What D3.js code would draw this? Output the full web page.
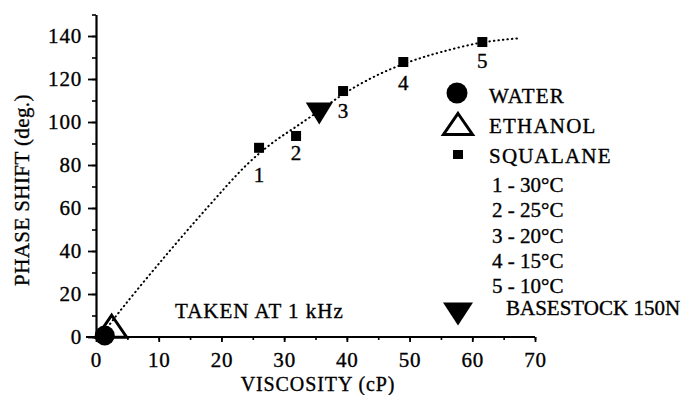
<!DOCTYPE html>
<html>
<head>
<meta charset="utf-8">
<script src="https://cdn.jsdelivr.net/npm/d3@7"></script>
<style>
  body { margin: 0; background: #fff; }
  text { font-family: "Liberation Serif", "Times New Roman", serif; fill: #000; stroke: #000; stroke-width: 0.35px; }
</style>
</head>
<body>
<div id="svg_div"></div>
<script>
// Squalane points, numbered 1..5
var squalaneX = [26, 31.9, 39.4, 49, 61.6];
var squalaneY = [88, 93.5, 114.4, 127.9, 137.2];
var squalaneLabels = ["1", "2", "3", "4", "5"];

// Other fluids
var water = {x: 1.4, y: 0.7};
var ethanol = {x: 2.5, y: 5};
var basestock = {x: 35.6, y: 104};

// Dotted trend curve
var curveX = [1, 3, 10, 18, 24, 28, 32, 36, 40, 45, 50, 55, 61.6, 67.6];
var curveY = [1, 9, 34, 61, 80, 90, 98, 106, 114, 122, 128, 132.5, 137, 139];

// Axes
var xTicks = [0, 10, 20, 30, 40, 50, 60, 70];
var yTicks = [0, 20, 40, 60, 80, 100, 120, 140];

// Legend
var legendNames = ["WATER", "ETHANOL", "SQUALANE"];
var tempLabels = ["1 - 30°C", "2 - 25°C", "3 - 20°C", "4 - 15°C", "5 - 10°C"];
var basestockName = "BASESTOCK 150N";
var note = "TAKEN AT 1 kHz";

var svg = d3.select("#svg_div").append("svg").attr("width", 683).attr("height", 395);

var x = d3.scaleLinear().domain([0, 70]).range([96, 535]);
var y = d3.scaleLinear().domain([0, 150]).range([337, 14.5]);

// Marker shapes (centered on 0,0)
function upTri(w, h) { return "M0," + (-h / 2) + "L" + (w / 2) + "," + (h / 2) + "L" + (-w / 2) + "," + (h / 2) + "Z"; }
function downTri(w, h) { return "M" + (-w / 2) + "," + (-h / 2) + "L" + (w / 2) + "," + (-h / 2) + "L0," + (h / 2) + "Z"; }

// Y axis: minor ticks every 10, labelled every 20
var yAxisG = svg.append("g").attr("transform", "translate(" + x(0) + ",0)");
yAxisG.call(d3.axisLeft(y).tickValues(d3.range(0, 151, 10)).tickSize(4).tickSizeOuter(0).tickFormat(""));
yAxisG.select(".domain").attr("stroke-width", 2.2);
yAxisG.selectAll(".tick line").attr("stroke-width", 1.6);
var yMajor = svg.append("g").attr("transform", "translate(" + x(0) + ",0)");
yMajor.call(d3.axisLeft(y).tickValues(yTicks).tickSize(8).tickPadding(6));
yMajor.select(".domain").remove();
yMajor.selectAll(".tick line").attr("stroke-width", 1.8);
yMajor.selectAll(".tick text").attr("font-size", 21).attr("font-family", null).attr("letter-spacing", 0.8);

// X axis: minor ticks every 5, labelled every 10
var xAxisG = svg.append("g").attr("transform", "translate(0," + y(0) + ")");
xAxisG.call(d3.axisBottom(x).tickValues(d3.range(0, 71, 5)).tickSize(3).tickSizeOuter(0).tickFormat(""));
xAxisG.select(".domain").attr("stroke-width", 2.2).attr("d", "M" + (x(0) - 10) + ",0H" + x(70));
xAxisG.selectAll(".tick line").attr("stroke-width", 1.6);
var xMajor = svg.append("g").attr("transform", "translate(0," + y(0) + ")");
xMajor.call(d3.axisBottom(x).tickValues(xTicks).tickSize(5).tickPadding(10));
xMajor.select(".domain").remove();
xMajor.selectAll(".tick line").attr("stroke-width", 1.8);
xMajor.selectAll(".tick text").attr("font-size", 21).attr("font-family", null).attr("letter-spacing", 0.8);

// Axis titles
svg.append("text")
    .attr("x", 318).attr("y", 391)
    .attr("text-anchor", "middle").attr("font-size", 20)
    .attr("letter-spacing", 0.9)
    .text("VISCOSITY (cP)");
svg.append("text")
    .attr("transform", "translate(29,190) rotate(-90)")
    .attr("text-anchor", "middle").attr("font-size", 21)
    .attr("letter-spacing", 0.4)
    .text("PHASE SHIFT (deg.)");

// Dotted curve
var curveData = curveX.map(function(d, i) { return [d, curveY[i]]; });
svg.append("path")
    .datum(curveData)
    .attr("d", d3.line().x(function(d) { return x(d[0]); }).y(function(d) { return y(d[1]); }).curve(d3.curveCatmullRom))
    .attr("fill", "none")
    .attr("stroke", "#000")
    .attr("stroke-width", 2)
    .attr("stroke-linecap", "round")
    .attr("stroke-dasharray", "0.5,4");

// Water
svg.append("circle")
    .attr("cx", x(water.x)).attr("cy", y(water.y)).attr("r", 10)
    .attr("fill", "#000");

// Ethanol
svg.append("path")
    .attr("d", upTri(30, 22))
    .attr("transform", "translate(" + x(ethanol.x) + "," + y(ethanol.y) + ")")
    .attr("fill", "none").attr("stroke", "#000").attr("stroke-width", 3);

// Basestock
svg.append("path")
    .attr("d", downTri(27, 22))
    .attr("transform", "translate(" + x(basestock.x) + "," + y(basestock.y) + ")")
    .attr("fill", "#000");

// Squalane squares + numbers
var labelDy = [34, 24, 27, 28, 26];
var sq = svg.selectAll(".sq").data(squalaneX).enter().append("g").attr("class", "sq");
sq.append("rect")
    .attr("x", function(d) { return x(d) - 5; })
    .attr("y", function(d, i) { return y(squalaneY[i]) - 5; })
    .attr("width", 10).attr("height", 10)
    .attr("fill", "#000");
sq.append("text")
    .attr("x", function(d) { return x(d); })
    .attr("y", function(d, i) { return y(squalaneY[i]) + labelDy[i]; })
    .attr("text-anchor", "middle").attr("font-size", 21)
    .text(function(d, i) { return squalaneLabels[i]; });

// Legend
var lg = svg.append("g");
lg.append("circle").attr("cx", 457).attr("cy", 93).attr("r", 10.5).attr("fill", "#000");
lg.append("path").attr("d", upTri(29, 21)).attr("transform", "translate(458,124)")
    .attr("fill", "none").attr("stroke", "#000").attr("stroke-width", 3);
lg.append("rect").attr("x", 453).attr("y", 150).attr("width", 10).attr("height", 9).attr("fill", "#000");
lg.append("path").attr("d", downTri(30, 23)).attr("transform", "translate(458,314)").attr("fill", "#000");

lg.selectAll(".lname").data(legendNames).enter().append("text")
    .attr("x", 489)
    .attr("y", function(d, i) { return 103 + i * 30; })
    .attr("font-size", 21)
    .attr("letter-spacing", 1.2)
    .text(function(d) { return d; });
lg.selectAll(".ltemp").data(tempLabels).enter().append("text")
    .attr("x", 492)
    .attr("y", function(d, i) { return 192 + i * 25.3; })
    .attr("font-size", 21)
    .text(function(d) { return d; });
lg.append("text").attr("x", 506).attr("y", 315).attr("font-size", 21)
    .text(basestockName);

// Note
svg.append("text").attr("x", 175).attr("y", 318).attr("font-size", 21)
    .attr("letter-spacing", 1)
    .text(note);
</script>
</body>
</html>
